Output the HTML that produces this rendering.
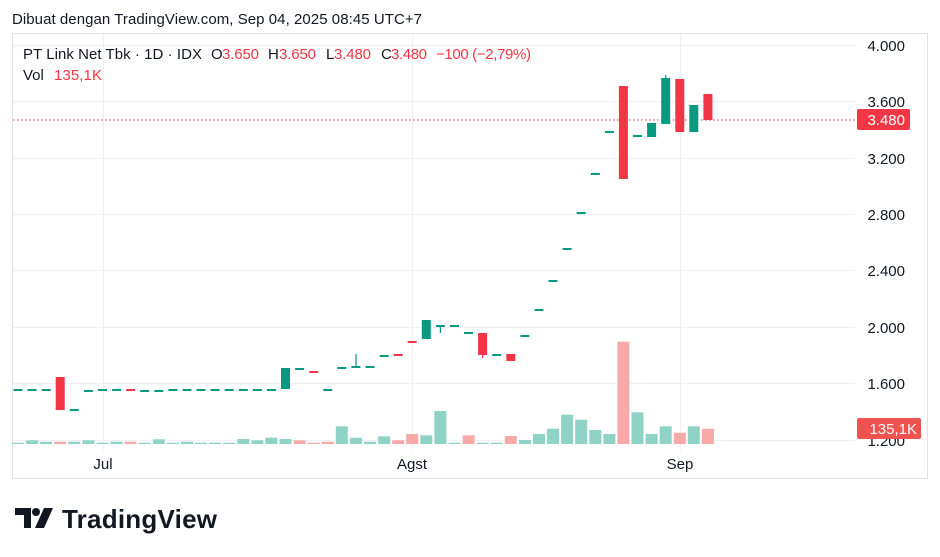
<!DOCTYPE html>
<html><head><meta charset="utf-8"><style>
html,body{margin:0;padding:0;background:#fff;}
svg{display:block;font-family:"Liberation Sans",sans-serif;}
</style></head><body>
<svg width="940" height="557" viewBox="0 0 940 557" xmlns="http://www.w3.org/2000/svg">
<rect width="940" height="557" fill="#fff"/>
<text x="12" y="24" font-size="15" fill="#131722" textLength="410">Dibuat dengan TradingView.com, Sep 04, 2025 08:45 UTC+7</text>
<!-- frame -->
<rect x="12.5" y="33.5" width="915" height="445" fill="none" stroke="#e0e3eb" stroke-width="1"/>
<!-- grid -->
<g stroke="#eef0f5" stroke-width="1">
<line x1="13" y1="45.5" x2="855" y2="45.5"/>
<line x1="13" y1="101.5" x2="855" y2="101.5"/>
<line x1="13" y1="158.5" x2="855" y2="158.5"/>
<line x1="13" y1="214.5" x2="855" y2="214.5"/>
<line x1="13" y1="270.5" x2="855" y2="270.5"/>
<line x1="13" y1="327.5" x2="855" y2="327.5"/>
<line x1="13" y1="383.5" x2="855" y2="383.5"/>
<line x1="13" y1="440.5" x2="855" y2="440.5"/>
<line x1="103.5" y1="34" x2="103.5" y2="450"/>
<line x1="412.5" y1="34" x2="412.5" y2="450"/>
<line x1="680.5" y1="34" x2="680.5" y2="450"/>
</g>
<!-- volume -->
<g fill="#8fd3c7">
<rect x="12" y="442.7" width="12" height="1.3"/>
<rect x="26.1" y="440.3" width="12" height="3.7"/>
<rect x="40.2" y="441.7" width="12" height="2.3"/>
<rect x="68.3" y="441.7" width="12" height="2.3"/>
<rect x="82.4" y="440.3" width="12" height="3.7"/>
<rect x="96.5" y="442.7" width="12" height="1.3"/>
<rect x="110.6" y="441.7" width="12" height="2.3"/>
<rect x="138.7" y="442.7" width="12" height="1.3"/>
<rect x="152.8" y="439.3" width="12" height="4.7"/>
<rect x="166.9" y="442.7" width="12" height="1.3"/>
<rect x="181" y="441.7" width="12" height="2.3"/>
<rect x="195" y="442.7" width="12" height="1.3"/>
<rect x="209.1" y="442.7" width="12" height="1.3"/>
<rect x="223.2" y="442.7" width="12" height="1.3"/>
<rect x="237.3" y="439" width="12" height="5"/>
<rect x="251.4" y="440.3" width="12" height="3.7"/>
<rect x="265.4" y="437.7" width="12" height="6.3"/>
<rect x="279.5" y="439" width="12" height="5"/>
<rect x="335.8" y="426.3" width="12" height="17.7"/>
<rect x="349.9" y="437.7" width="12" height="6.3"/>
<rect x="364" y="441.7" width="12" height="2.3"/>
<rect x="378.1" y="436.3" width="12" height="7.7"/>
<rect x="420.3" y="435.3" width="12" height="8.7"/>
<rect x="434.4" y="411" width="12" height="33"/>
<rect x="448.5" y="442.7" width="12" height="1.3"/>
<rect x="476.6" y="442.7" width="12" height="1.3"/>
<rect x="490.7" y="442.7" width="12" height="1.3"/>
<rect x="518.9" y="440" width="12" height="4"/>
<rect x="533" y="434" width="12" height="10"/>
<rect x="547" y="428.7" width="12" height="15.3"/>
<rect x="561.1" y="414.7" width="12" height="29.3"/>
<rect x="575.2" y="419.7" width="12" height="24.3"/>
<rect x="589.3" y="430" width="12" height="14"/>
<rect x="603.4" y="434" width="12" height="10"/>
<rect x="631.5" y="412.3" width="12" height="31.7"/>
<rect x="645.6" y="434" width="12" height="10"/>
<rect x="659.7" y="426.3" width="12" height="17.7"/>
<rect x="687.8" y="426.3" width="12" height="17.7"/>
</g>
<g fill="#f7a9a7">
<rect x="54.2" y="441.7" width="12" height="2.3"/>
<rect x="124.6" y="441.7" width="12" height="2.3"/>
<rect x="293.6" y="440.3" width="12" height="3.7"/>
<rect x="307.7" y="442.7" width="12" height="1.3"/>
<rect x="321.8" y="441.7" width="12" height="2.3"/>
<rect x="392.2" y="440.3" width="12" height="3.7"/>
<rect x="406.2" y="434" width="12" height="10"/>
<rect x="462.6" y="435.3" width="12" height="8.7"/>
<rect x="504.8" y="436" width="12" height="8"/>
<rect x="617.4" y="341.7" width="12" height="102.3"/>
<rect x="673.8" y="432.7" width="12" height="11.3"/>
<rect x="701.9" y="428.7" width="12" height="15.3"/>
</g>
<!-- price line -->
<line x1="13" y1="120" x2="855" y2="120" stroke="#f23645" stroke-width="1" stroke-dasharray="1.5,2.5"/>
<!-- candles teal -->
<g fill="#089981">
<rect x="13.5" y="389" width="9" height="2"/>
<rect x="27.6" y="389" width="9" height="2"/>
<rect x="41.7" y="389" width="9" height="2"/>
<rect x="69.8" y="409" width="9" height="2"/>
<rect x="83.9" y="390" width="9" height="2"/>
<rect x="98" y="389" width="9" height="2"/>
<rect x="112.1" y="389" width="9" height="2"/>
<rect x="140.2" y="390" width="9" height="2"/>
<rect x="154.3" y="390" width="9" height="2"/>
<rect x="168.4" y="389" width="9" height="2"/>
<rect x="182.5" y="389" width="9" height="2"/>
<rect x="196.5" y="389" width="9" height="2"/>
<rect x="210.6" y="389" width="9" height="2"/>
<rect x="224.7" y="389" width="9" height="2"/>
<rect x="238.8" y="389" width="9" height="2"/>
<rect x="252.9" y="389" width="9" height="2"/>
<rect x="266.9" y="389" width="9" height="2"/>
<rect x="281" y="368" width="9" height="21"/>
<rect x="295.1" y="368" width="9" height="2"/>
<rect x="323.3" y="389" width="9" height="2"/>
<rect x="337.3" y="367" width="9" height="2"/>
<rect x="351.4" y="366" width="9" height="2"/><rect x="355.4" y="354" width="1.2" height="13"/>
<rect x="365.5" y="366" width="9" height="2"/>
<rect x="379.6" y="355" width="9" height="2"/>
<rect x="421.8" y="320" width="9" height="19"/>
<rect x="435.9" y="325" width="9" height="2"/><rect x="439.8" y="326" width="1.2" height="7"/>
<rect x="450" y="325" width="9" height="2"/>
<rect x="464.1" y="332" width="9" height="2"/>
<rect x="492.2" y="354" width="9" height="2"/>
<rect x="520.4" y="335" width="9" height="2"/>
<rect x="534.5" y="309" width="9" height="2"/>
<rect x="548.5" y="280" width="9" height="2"/>
<rect x="562.6" y="248" width="9" height="2"/>
<rect x="576.7" y="212" width="9" height="2"/>
<rect x="590.8" y="173" width="9" height="2"/>
<rect x="604.9" y="131" width="9" height="2"/>
<rect x="633" y="135" width="9" height="2"/>
<rect x="647.1" y="123" width="9" height="14"/>
<rect x="661.2" y="78" width="9" height="46"/><rect x="665.1" y="75" width="1.2" height="4"/>
<rect x="689.3" y="105" width="9" height="27"/>
</g>
<g fill="#f23645">
<rect x="55.7" y="377" width="9" height="33"/>
<rect x="126.1" y="389" width="9" height="2"/>
<rect x="309.2" y="371" width="9" height="2"/>
<rect x="393.7" y="354" width="9" height="2"/>
<rect x="407.7" y="341" width="9" height="2"/>
<rect x="478.1" y="333" width="9" height="22"/><rect x="482" y="354" width="1.2" height="4"/>
<rect x="506.3" y="354" width="9" height="7"/>
<rect x="618.9" y="86" width="9" height="93"/>
<rect x="675.3" y="79" width="9" height="53"/>
<rect x="703.4" y="94" width="9" height="26"/>
</g>
<!-- price axis labels -->
<g font-size="15" fill="#131722" text-anchor="end">
<text x="905" y="51">4.000</text>
<text x="905" y="107">3.600</text>
<text x="905" y="164">3.200</text>
<text x="905" y="220">2.800</text>
<text x="905" y="276">2.400</text>
<text x="905" y="333">2.000</text>
<text x="905" y="389">1.600</text>
<text x="905" y="446">1.200</text>
</g>
<rect x="857" y="109" width="53" height="21" rx="2" fill="#f23645"/>
<text x="905" y="125" font-size="15" fill="#fff" text-anchor="end">3.480</text>
<rect x="857" y="418" width="64" height="21" rx="2" fill="#ef5350"/>
<text x="917" y="434" font-size="15" fill="#fff" text-anchor="end">135,1K</text>
<!-- time labels -->
<g font-size="15" fill="#131722" text-anchor="middle">
<text x="103" y="469">Jul</text>
<text x="412" y="469">Agst</text>
<text x="680" y="469">Sep</text>
</g>
<!-- legend -->
<g font-size="15">
<text x="23" y="59" fill="#131722" textLength="179">PT Link Net Tbk · 1D · IDX</text>
<text x="211" y="59" fill="#131722">O</text><text x="222" y="59" fill="#f23645" textLength="37">3.650</text>
<text x="268" y="59" fill="#131722">H</text><text x="279" y="59" fill="#f23645" textLength="37">3.650</text>
<text x="326" y="59" fill="#131722">L</text><text x="334" y="59" fill="#f23645" textLength="37">3.480</text>
<text x="381" y="59" fill="#131722">C</text><text x="391" y="59" fill="#f23645" textLength="36">3.480</text>
<text x="436" y="59" fill="#f23645" textLength="95">−100 (−2,79%)</text>
<text x="23" y="80" fill="#131722">Vol</text><text x="54" y="80" fill="#f23645" textLength="48">135,1K</text>
</g>
<!-- logo -->
<g fill="#131722">
<path d="M15 508 H31 V528 H24 V515 H15 Z"/>
<circle cx="36" cy="512" r="4"/>
<path d="M44 508 H53 L44 528 H35 Z"/>
</g>
<text x="62" y="528" font-size="26" font-weight="bold" fill="#131722" textLength="155">TradingView</text>
</svg>
</body></html>
